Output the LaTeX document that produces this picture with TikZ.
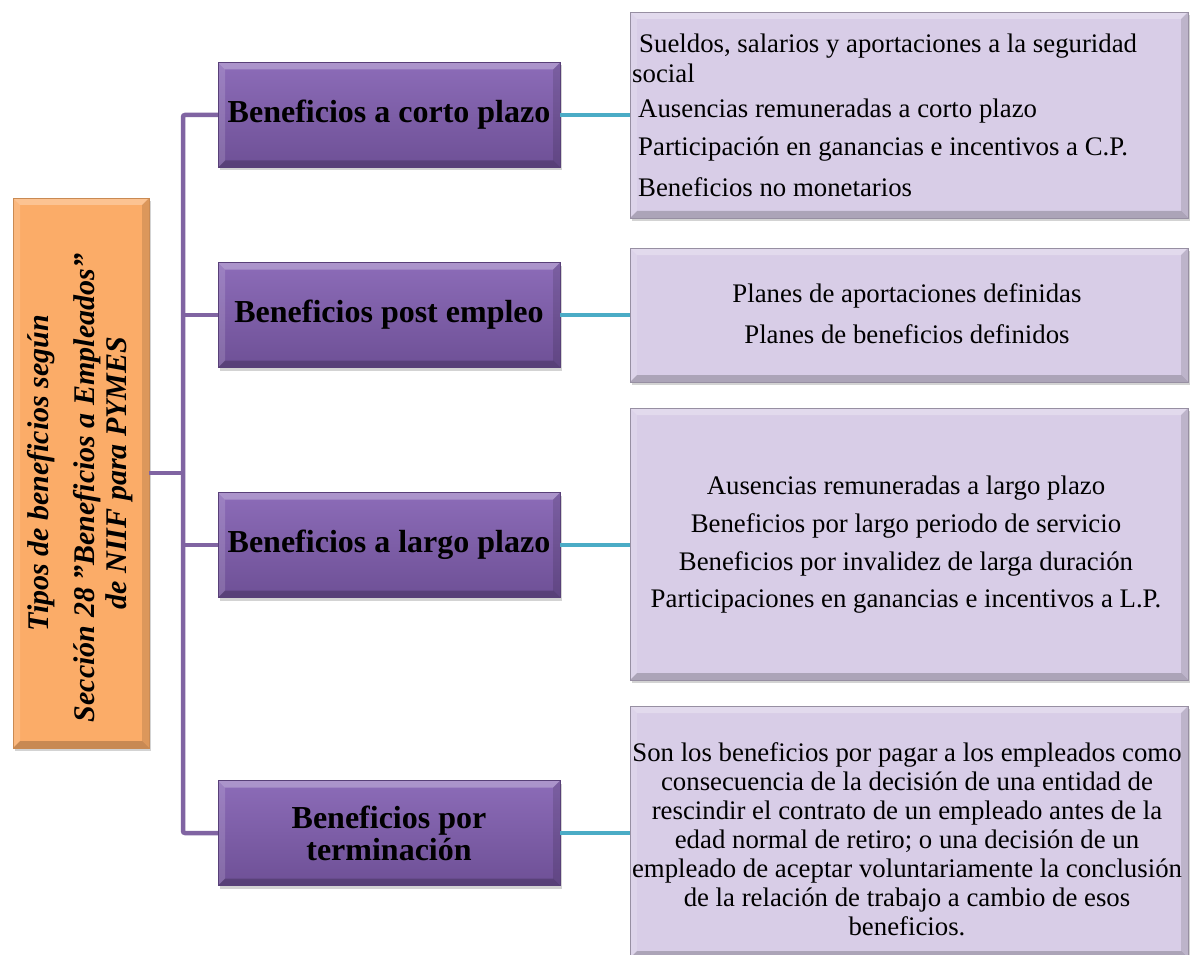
\documentclass[tikz,border=0pt]{standalone}
\usepackage{fontspec}
\setmainfont{Liberation Serif}[Ligatures=Common]
\usetikzlibrary{shadows}
\definecolor{orangefill}{RGB}{251,172,104}
\definecolor{purptop}{RGB}{140,108,184}
\definecolor{purpbot}{RGB}{110,80,150}
\definecolor{lavfill}{RGB}{216,205,231}
\definecolor{trunkcol}{RGB}{128,100,162}
\definecolor{cyancol}{RGB}{75,172,198}
\tikzset{
  bevel/.style={path picture={
    \fill[white,opacity=.28] (path picture bounding box.north west) -- (path picture bounding box.north east) -- ([xshift=-7pt,yshift=-7pt]path picture bounding box.north east) -- ([xshift=7pt,yshift=-7pt]path picture bounding box.north west) -- cycle;
    \fill[white,opacity=.15] (path picture bounding box.north west) -- (path picture bounding box.south west) -- ([xshift=7pt,yshift=7pt]path picture bounding box.south west) -- ([xshift=7pt,yshift=-7pt]path picture bounding box.north west) -- cycle;
    \fill[black,opacity=.12] (path picture bounding box.north east) -- (path picture bounding box.south east) -- ([xshift=-7pt,yshift=7pt]path picture bounding box.south east) -- ([xshift=-7pt,yshift=-7pt]path picture bounding box.north east) -- cycle;
    \fill[black,opacity=.2] (path picture bounding box.south west) -- (path picture bounding box.south east) -- ([xshift=-7pt,yshift=7pt]path picture bounding box.south east) -- ([xshift=7pt,yshift=7pt]path picture bounding box.south west) -- cycle;
  }},
  rootbox/.style={bevel, fill=orangefill, draw=orangefill!80!black, line width=0.4pt,
    minimum width=136pt, minimum height=550pt, inner sep=0pt,
    drop shadow={shadow xshift=2pt, shadow yshift=-3pt, opacity=.35}},
  catbox/.style={bevel, top color=purptop, bottom color=purpbot, draw=purpbot!80!black, line width=0.4pt,
    minimum width=342pt, minimum height=105pt, inner sep=0pt, align=center,
    font=\fontsize{32}{32}\selectfont\bfseries,
    drop shadow={shadow xshift=2pt, shadow yshift=-3pt, opacity=.35}},
  itembox/.style={bevel, fill=lavfill, draw=lavfill!70!black, line width=0.4pt,
    minimum width=558pt, inner sep=0pt,
    drop shadow={shadow xshift=2pt, shadow yshift=-3pt, opacity=.35}},
  itemtext/.style={inner sep=0pt, font=\fontsize{26.8}{29}\selectfont},
  trunk/.style={draw=trunkcol, line width=4.5pt, rounded corners=2pt},
  link/.style={draw=cyancol, line width=4.5pt}
}
\begin{document}
\begin{tikzpicture}[x=1pt,y=-1pt]
\useasboundingbox (0,0) rectangle (1195,955);
% left root
\node[rootbox] (root) at (81,473) {\rotatebox{90}{\fontsize{30}{32}\selectfont\bfseries\itshape\begin{tabular}{@{}c@{}}Tipos de beneficios según\\[14pt]Sección 28 "Beneficios a Empleados"\hspace*{30pt}\\de NIIF para PYMES\end{tabular}}};
% categories
\node[catbox] (b1) at (389,115) {Beneficios a corto plazo};
\node[catbox] (b2) at (389,315) {Beneficios post empleo};
\node[catbox] (b3) at (389,545) {Beneficios a largo plazo};
\node[catbox] (b4) at (389,833) {Beneficios por\\terminación};
% item boxes
\node[itembox, minimum height=206pt] (i1) at (909,115) {};
\node[itembox, minimum height=134pt] (i2) at (909,315) {};
\node[itembox, minimum height=272pt] (i3) at (909,544) {};
\node[itembox, minimum height=252pt] (i4) at (909,832) {};
% item texts
\node[itemtext, anchor=west] (t1a) at (632,46) {\hspace{7pt}Sueldos, salarios y aportaciones a la seguridad};
\node[itemtext, anchor=west] (t1b) at (632,73) {social};
\node[itemtext, anchor=west] (t1c) at (638,111) {Ausencias remuneradas a corto plazo};
\node[itemtext, anchor=west] (t1d) at (638,149) {Participación en ganancias e incentivos a C.P.};
\node[itemtext, anchor=west] (t1e) at (638,187) {Beneficios no monetarios};
\node[itemtext] (t2a) at (907,296) {Planes de aportaciones definidas};
\node[itemtext] (t2b) at (907,334) {Planes de beneficios definidos};
\node[itemtext] (t3a) at (906,488) {Ausencias remuneradas a largo plazo};
\node[itemtext] (t3b) at (906,526) {Beneficios por largo periodo de servicio};
\node[itemtext] (t3c) at (906,564) {Beneficios por invalidez de larga duración};
\node[itemtext] (t3d) at (906,602) {Participaciones en ganancias e incentivos a L.P.};
\node[itemtext, align=center] (t4) at (907,839) {Son los beneficios por pagar a los empleados como\\consecuencia de la decisión de una entidad de\\rescindir el contrato de un empleado antes de la\\edad normal de retiro; o una decisión de un\\empleado de aceptar voluntariamente la conclusión\\de la relación de trabajo a cambio de esos\\beneficios.};
% trunk
\coordinate (tx) at (183,473);
\draw[trunk] (b1.west) -- (b1.west -| tx) -- (b4.west -| tx) -- (b4.west);
\draw[trunk] (root.east) -- (root.east -| tx);
\draw[trunk] (b2.west -| tx) -- (b2.west);
\draw[trunk] (b3.west -| tx) -- (b3.west);
% links
\draw[link] (b1.east) -- (b1.east -| i1.west);
\draw[link] (b2.east) -- (b2.east -| i2.west);
\draw[link] (b3.east) -- (b3.east -| i3.west);
\draw[link] (b4.east) -- (b4.east -| i4.west);
\end{tikzpicture}
\end{document}
